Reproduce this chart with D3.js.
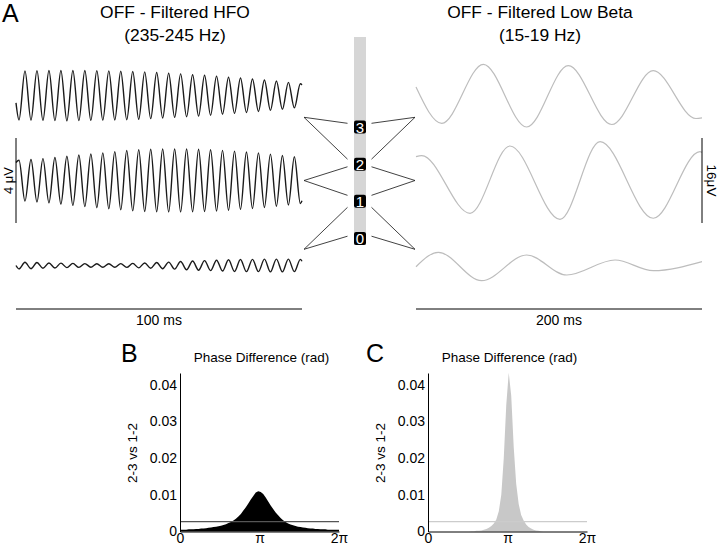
<!DOCTYPE html>
<html><head><meta charset="utf-8">
<script src="https://cdn.jsdelivr.net/npm/d3@7"></script>
<style>
body{margin:0;background:#fff}
svg{display:block}
text{font-family:"Liberation Sans",Arial,Helvetica,sans-serif;fill:#000}
</style>
</head><body>
<svg id="chart" width="720" height="546"></svg>
<script>
// ---------------- DATA ----------------
const hfoTitle = ["OFF - Filtered HFO", "(235-245 Hz)"];
const betaTitle = ["OFF - Filtered Low Beta", "(15-19 Hz)"];
const hfoTimeLabel = "100 ms";
const betaTimeLabel = "200 ms";
const hfoAmpLabel = "4 \u03bcV";
const betaAmpLabel = "16\u03bcV";

// HFO traces: times (ms) of start, extrema, end; values in µV
const hfoTimes = [0, 1.05, 3.14, 5.24, 7.33, 9.42, 11.52, 13.61, 15.70, 17.79, 19.89, 21.98, 24.07, 26.17, 28.26, 30.35, 32.45, 34.54, 36.63, 38.72, 40.82, 42.91, 45.00, 47.10, 49.19, 51.28, 53.38, 55.47, 57.56, 59.65, 61.75, 63.84, 65.93, 68.03, 70.12, 72.21, 74.31, 76.40, 78.49, 80.58, 82.68, 84.77, 86.86, 88.96, 91.05, 93.14, 95.24, 97.33, 99.42, 100];
const hfo32 = [-0.35, -1.15, 1.16, -1.16, 1.17, -1.17, 1.18, -1.18, 1.18, -1.19, 1.18, -1.18, 1.18, -1.17, 1.17, -1.16, 1.16, -1.15, 1.14, -1.14, 1.13, -1.12, 1.11, -1.09, 1.08, -1.06, 1.05, -1.03, 1.02, -1.00, 0.98, -0.97, 0.95, -0.93, 0.91, -0.88, 0.86, -0.84, 0.82, -0.80, 0.78, -0.75, 0.73, -0.70, 0.68, -0.65, 0.62, -0.58, 0.55, 0.50];
const hfo21 = [0.85, 0.95, -0.97, 0.99, -1.01, 1.03, -1.05, 1.08, -1.11, 1.14, -1.17, 1.20, -1.23, 1.25, -1.28, 1.30, -1.33, 1.36, -1.38, 1.41, -1.43, 1.45, -1.46, 1.47, -1.47, 1.48, -1.48, 1.48, -1.48, 1.48, -1.47, 1.47, -1.46, 1.45, -1.44, 1.42, -1.40, 1.38, -1.36, 1.34, -1.32, 1.30, -1.27, 1.24, -1.21, 1.18, -1.15, 1.12, -1.08, -0.95];
const hfo10 = [0.0, -0.16, 0.15, -0.15, 0.14, -0.13, 0.12, -0.12, 0.11, -0.10, 0.10, -0.09, 0.09, -0.08, 0.08, -0.08, 0.08, -0.08, 0.09, -0.09, 0.10, -0.11, 0.12, -0.13, 0.14, -0.15, 0.16, -0.17, 0.19, -0.20, 0.21, -0.22, 0.23, -0.24, 0.25, -0.26, 0.27, -0.28, 0.28, -0.29, 0.29, -0.29, 0.30, -0.30, 0.30, -0.30, 0.30, -0.29, 0.29, 0.20];

// Low beta traces
const beta32Times = [0, 18.0, 47.1, 77.4, 106.5, 136.9, 165.9, 195.8, 200];
const beta32 = [1.6, -5.23, 5.87, -5.93, 5.61, -5.46, 4.67, -4.33, -4.2];
const beta21Times = [0, 4.0, 37.8, 65.7, 100.7, 128.7, 165.9, 198.6, 200];
const beta21 = [4.5, 4.7, -6.17, 6.49, -7.30, 7.30, -7.11, 5.42, 5.3];
const beta10Times = [0, 15.6, 45.9, 77.4, 105.4, 139.2, 165.9, 200];
const beta10 = [-0.23, 2.48, -2.86, 1.98, -1.79, 1.04, -0.98, 0.72];

// electrode contacts and bipolar pairs
const contacts = ["0", "1", "2", "3"];
const pairs = [["3", "2"], ["2", "1"], ["1", "0"]];

// Phase difference histograms (64 bins over 0..2π)
const phaseB = [0.0005, 0.0005, 0.0005, 0.0006, 0.0006, 0.0006, 0.0007, 0.0007, 0.0008, 0.0008, 0.0009, 0.0010, 0.0011, 0.0012, 0.0013, 0.0014, 0.0016, 0.0018, 0.0020, 0.0023, 0.0026, 0.0030, 0.0035, 0.0041, 0.0048, 0.0057, 0.0066, 0.0076, 0.0087, 0.0097, 0.0106, 0.0110, 0.0108, 0.0102, 0.0093, 0.0082, 0.0071, 0.0061, 0.0052, 0.0044, 0.0037, 0.0031, 0.0026, 0.0022, 0.0019, 0.0017, 0.0015, 0.0013, 0.0012, 0.0011, 0.0010, 0.0009, 0.0008, 0.0008, 0.0007, 0.0007, 0.0006, 0.0006, 0.0006, 0.0005, 0.0005, 0.0005, 0.0005, 0.0005];
const phaseC = [0.00003, 0.00003, 0.00003, 0.00003, 0.00003, 0.00003, 0.00003, 0.00003, 0.00003, 0.00003, 0.00003, 0.00003, 0.00003, 0.00003, 0.00003, 0.00003, 0.00003, 0.0001, 0.0001, 0.0002, 0.0002, 0.0003, 0.0005, 0.0007, 0.0010, 0.0015, 0.0022, 0.0033, 0.0055, 0.0100, 0.0200, 0.0345, 0.0433, 0.0370, 0.0230, 0.0130, 0.0075, 0.0045, 0.0030, 0.0019, 0.0012, 0.0008, 0.0005, 0.0003, 0.0002, 0.0001, 0.00003, 0.00003, 0.00003, 0.00003, 0.00003, 0.00003, 0.00003, 0.00003, 0.00003, 0.00003, 0.00003, 0.00003, 0.00003, 0.00003, 0.00003, 0.00003, 0.00003, 0.00003];
const chanceB = 0.0027;
const chanceC = 0.0027;
const phaseYTicks = [0, 0.01, 0.02, 0.03, 0.04];
const phaseXTicks = [0, Math.PI, 2 * Math.PI];
const phaseXLabels = ["0", "\u03c0", "2\u03c0"];
const phaseTitle = "Phase Difference (rad)";
const phaseYLabel = "2-3 vs 1-2";

// ---------------- DRAWING ----------------
const svg = d3.select("#chart");

// Panel A scales
const hfoX = d3.scaleLinear().domain([0, 100]).range([16, 302]);
const hfoY = d3.scaleLinear().domain([0, 4]).range([223, 138]);   // µV
const betaX = d3.scaleLinear().domain([0, 200]).range([416, 702]);
const betaY = d3.scaleLinear().domain([0, 16]).range([223, 138]); // µV
const hfoOffsets = [6, 2, -2];
const betaOffsets = [24, 8, -8];

svg.append("text").attr("x", 2).attr("y", 22).attr("font-size", 25).text("A");

function titleBlock(lines, cx) {
  lines.forEach((t, i) => {
    svg.append("text").attr("x", cx).attr("y", 18 + i * 23)
      .attr("text-anchor", "middle").attr("font-size", 17.4).text(t);
  });
}
titleBlock(hfoTitle, 175);
titleBlock(betaTitle, 540);

function trace(times, vals, off, sx, sy, color, w) {
  const gen = d3.line()
    .x((d, i) => sx(times[i]))
    .y(d => sy(d + off))
    .curve(d3.curveMonotoneX);
  svg.append("path").attr("d", gen(vals)).attr("fill", "none")
    .attr("stroke", color).attr("stroke-width", w).attr("stroke-linejoin", "round");
}
[hfo32, hfo21, hfo10].forEach((v, k) => trace(hfoTimes, v, hfoOffsets[k], hfoX, hfoY, "#1a1a1a", 1.4));
trace(beta32Times, beta32, betaOffsets[0], betaX, betaY, "#bdbdbd", 1.2);
trace(beta21Times, beta21, betaOffsets[1], betaX, betaY, "#bdbdbd", 1.2);
trace(beta10Times, beta10, betaOffsets[2], betaX, betaY, "#bdbdbd", 1.2);

// scale bars
const barY = 309;
svg.append("line").attr("x1", hfoX(0)).attr("x2", hfoX(100)).attr("y1", barY).attr("y2", barY).attr("stroke", "#000").attr("stroke-width", 1);
svg.append("line").attr("x1", betaX(0)).attr("x2", betaX(200)).attr("y1", barY).attr("y2", barY).attr("stroke", "#000").attr("stroke-width", 1);
svg.append("text").attr("x", (hfoX(0) + hfoX(100)) / 2).attr("y", 325).attr("text-anchor", "middle").attr("font-size", 14).text(hfoTimeLabel);
svg.append("text").attr("x", (betaX(0) + betaX(200)) / 2).attr("y", 325).attr("text-anchor", "middle").attr("font-size", 14).text(betaTimeLabel);
svg.append("line").attr("x1", hfoX(0)).attr("x2", hfoX(0)).attr("y1", hfoY(0)).attr("y2", hfoY(4)).attr("stroke", "#000").attr("stroke-width", 1);
svg.append("line").attr("x1", betaX(200)).attr("x2", betaX(200)).attr("y1", betaY(0)).attr("y2", betaY(16)).attr("stroke", "#000").attr("stroke-width", 1);
svg.append("text").attr("transform", `translate(13,${(hfoY(0) + hfoY(4)) / 2}) rotate(-90)`)
  .attr("text-anchor", "middle").attr("font-size", 13).text(hfoAmpLabel);
svg.append("text").attr("transform", `translate(706.5,${(betaY(0) + betaY(16)) / 2}) rotate(90)`)
  .attr("text-anchor", "middle").attr("font-size", 13.5).text(betaAmpLabel);

// electrode
const contactY = d3.scaleLinear().domain([0, 3]).range([238.5, 127]);
const ex0 = 354, ew = 12, ecx = ex0 + ew / 2;
svg.append("rect").attr("x", ex0).attr("y", 37).attr("width", ew).attr("height", 208).attr("fill", "#d6d6d6");
// connector lines
const apexY = [117.3, 180.5, 249.3];
const ends = [[-3.7, -5], [2.6, -6], [6, -2.3]];
pairs.forEach((p, k) => {
  const a = contactY(+p[0]) + ends[k][0];
  const b = contactY(+p[1]) + ends[k][1];
  [[304, 347.5], [415, 371.5]].forEach(([ax, bx]) => {
    svg.append("path").attr("d", `M${bx},${a}L${ax},${apexY[k]}L${bx},${b}`)
      .attr("fill", "none").attr("stroke", "#111").attr("stroke-width", 0.8);
  });
});
contacts.forEach(c => {
  const cy = contactY(+c);
  svg.append("rect").attr("x", ex0).attr("y", cy - 6.5).attr("width", ew).attr("height", 13)
    .attr("rx", 2).attr("fill", "#000");
  svg.append("text").attr("x", ecx).attr("y", cy + 5.5).attr("text-anchor", "middle")
    .attr("font-size", 15).style("fill", "#fff").text(c);
});

// Panels B and C
function phasePanel(letter, letterX, x0, values, chance, fillCol, lineCol) {
  const x1 = x0 + 159;
  const phX = d3.scaleLinear().domain([0, 2 * Math.PI]).range([x0, x1]);
  const phY = d3.scaleLinear().domain([0, 0.0432]).range([531.5, 373]);
  const binX = d3.scaleLinear().domain([0, values.length]).range(phX.range());
  const n = values.length;
  const pts = [[0, values[0]]].concat(values.map((v, i) => [i + 0.5, v]), [[n, values[n - 1]]]);
  svg.append("path").attr("d", d3.area().x(d => binX(d[0])).y0(phY(0)).y1(d => phY(d[1])).curve(d3.curveLinear)(pts))
    .attr("fill", fillCol).attr("stroke", "none");
  svg.append("line").attr("x1", phX(0)).attr("x2", phX(2 * Math.PI)).attr("y1", phY(chance)).attr("y2", phY(chance))
    .attr("stroke", lineCol).attr("stroke-width", 1.3);
  const ya = svg.append("g").attr("transform", `translate(${x0},0)`)
    .call(d3.axisLeft(phY).tickValues(phaseYTicks).tickSize(0).tickSizeOuter(0).tickPadding(3)
      .tickFormat(d => d === 0 ? "0" : d3.format(".2f")(d)));
  const xa = svg.append("g").attr("transform", `translate(0,${phY(0)})`)
    .call(d3.axisBottom(phX).tickValues(phaseXTicks).tickSize(0).tickSizeOuter(0).tickPadding(1.5)
      .tickFormat((d, i) => phaseXLabels[i]));
  [ya, xa].forEach(g => {
    g.select(".domain").attr("stroke", "#000").attr("stroke-width", 1);
    g.selectAll("text").attr("font-size", 14).attr("font-family", '"Liberation Sans",Arial,sans-serif').style("fill", "#000");
  });
  svg.append("text").attr("x", letterX).attr("y", 362).attr("font-size", 25).text(letter);
  svg.append("text").attr("x", (x0 + x1) / 2 + 2).attr("y", 362).attr("text-anchor", "middle")
    .attr("font-size", 13.5).text(phaseTitle);
  svg.append("text").attr("transform", `translate(${x0 - 43},453) rotate(-90)`)
    .attr("text-anchor", "middle").attr("font-size", 13.5).text(phaseYLabel);
}
phasePanel("B", 121, 180, phaseB, chanceB, "#000", "#555");
phasePanel("C", 366, 428, phaseC, chanceC, "#c8c8c8", "#cccccc");
</script>
</body></html>
